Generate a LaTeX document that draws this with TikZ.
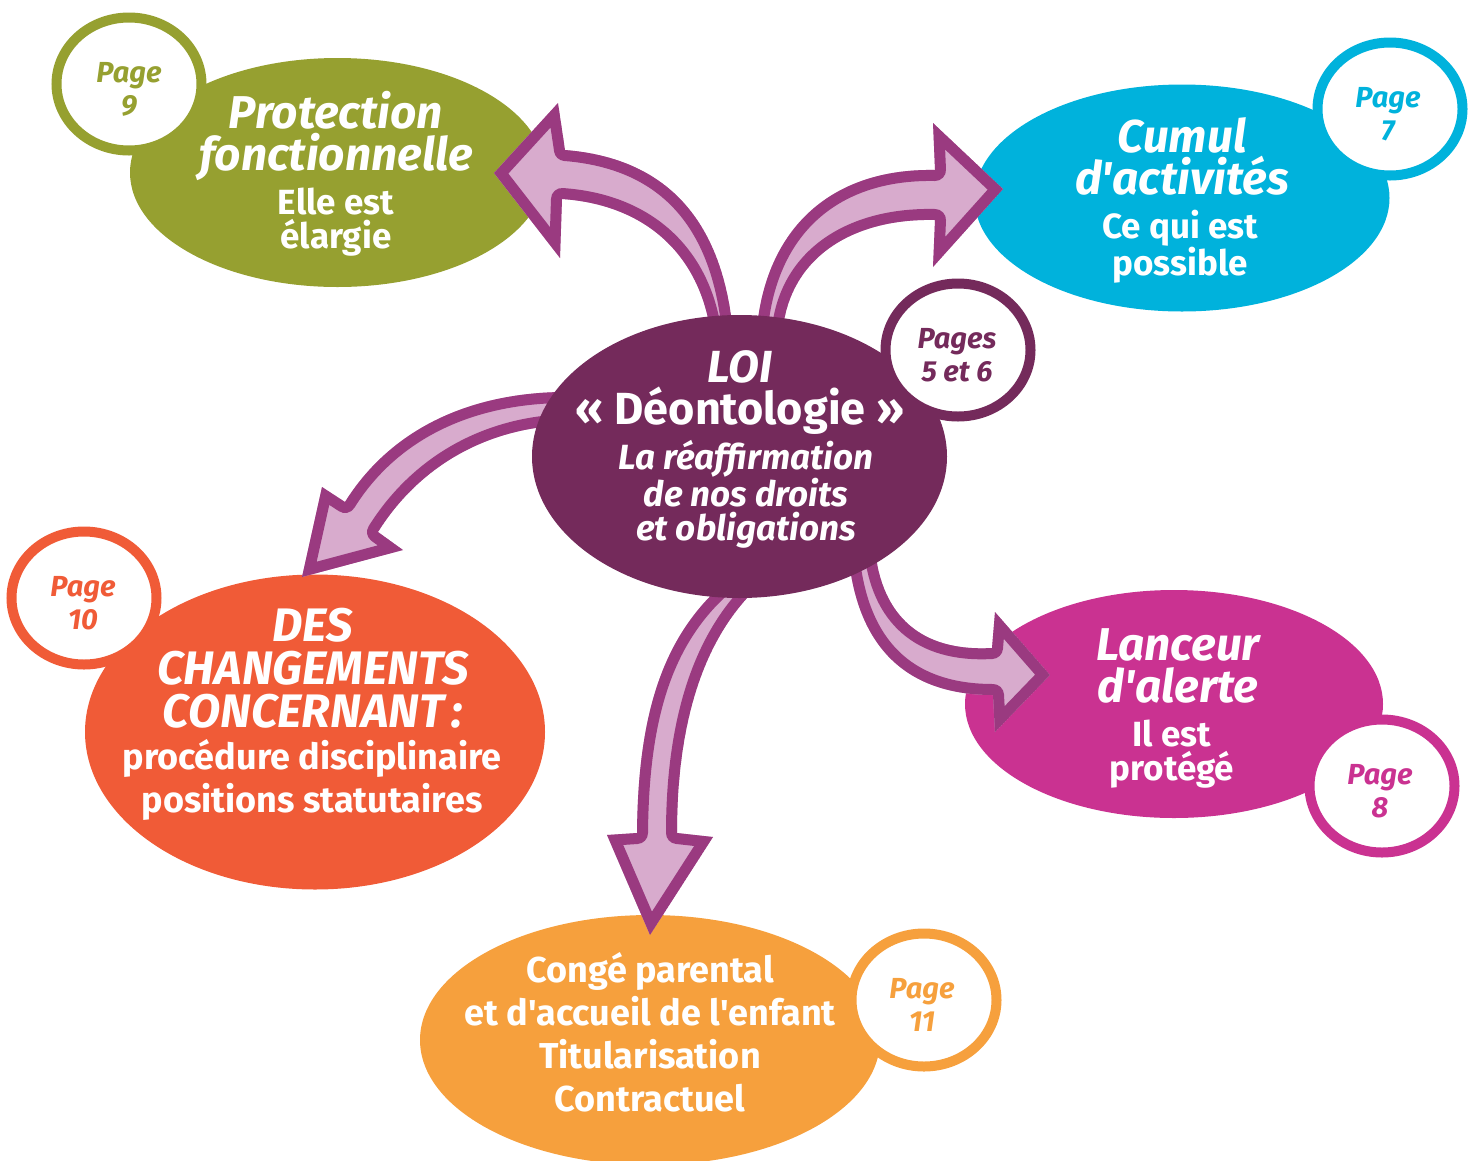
\documentclass[tikz,border=0pt]{standalone}
\usepackage{fontspec}
\setmainfont{Fira Sans}
\usetikzlibrary{shapes.geometric}

\definecolor{cgreen}{HTML}{96A030}
\definecolor{ccyan}{HTML}{00B2DC}
\definecolor{cplum}{HTML}{742A5B}
\definecolor{cred}{HTML}{F05B37}
\definecolor{cmagenta}{HTML}{CA3291}
\definecolor{corange}{HTML}{F6A03D}
\definecolor{arrowedge}{HTML}{9A3A80}
\definecolor{arrowbody}{HTML}{D8ABCD}

\newcommand{\ap}{\textquotesingle}

\tikzset{
  bubble/.style={ellipse, inner sep=0pt, draw=none},
  pagering/.style={ellipse, fill=white, draw=#1, line width=10pt,
    inner sep=0pt, minimum width=145pt, minimum height=133pt},
  pagetext/.style={text=#1, align=center, inner sep=0pt,
    font=\fontsize{29}{33}\selectfont\bfseries\itshape},
  titletext/.style={text=white, align=center, inner sep=0pt,
    font=\fontsize{46}{42}\selectfont\bfseries\itshape},
  subtext/.style={text=white, align=center, inner sep=0pt,
    font=\fontsize{35}{34}\selectfont\bfseries},
  arrowbodyfill/.style={fill=arrowbody},
  arrowrim/.style={draw=arrowedge, line width=22pt, line join=round},
}

% curved block arrow: light body with a rim kept inside the outline
\newcommand{\blockarrow}[1]{%
  \begin{scope}
    \clip #1;
    \fill[arrowbodyfill] #1;
    \draw[arrowrim] #1;
  \end{scope}}

\begin{document}
\begin{tikzpicture}[x=1pt, y=-1pt]
\useasboundingbox (0,0) rectangle (1478,1160);
\clip (0,0) rectangle (1478,1160);

% ---- outer topics ----
\node[bubble, fill=cgreen, minimum width=415pt, minimum height=229pt] (prot) at (337.5,172.5) {};
\node[pagering=cgreen] (prot-page) at (129,84) {};
\node[pagetext=cgreen] (prot-pagetext) at (129,89) {Page\\9};
\node[titletext, anchor=north] (prot-title) at (336,91) {Protection\\fonctionnelle};
\node[subtext, anchor=north] (prot-sub) at (336,188) {Elle est\\élargie};

\node[bubble, fill=ccyan, minimum width=415pt, minimum height=227pt] (cumul) at (1182,198) {};
\node[pagering=ccyan] (cumul-page) at (1390,109) {};
\node[pagetext=ccyan] (cumul-pagetext) at (1388,114) {Page\\7};
\node[titletext, anchor=north] (cumul-title) at (1182,117) {Cumul\\d\ap activités};
\node[subtext, anchor=north] (cumul-sub) at (1180,210) {Ce qui est\\possible};

\node[bubble, fill=cred, minimum width=460pt, minimum height=315pt] (chg) at (315,732) {};
\node[pagering=cred] (chg-page) at (84,598) {};
\node[pagetext=cred] (chg-pagetext) at (83,603) {Page\\10};
\node[titletext, anchor=north, font=\fontsize{47}{43}\selectfont\bfseries\itshape] (chg-title) at (313,608) {DES\\CHANGEMENTS\\CONCERNANT\,:};
\node[subtext, anchor=north, font=\fontsize{36}{43}\selectfont\bfseries] (chg-sub) at (312,739) {procédure disciplinaire\\positions statutaires};

\node[bubble, fill=cmagenta, minimum width=418pt, minimum height=228pt] (alerte) at (1174,704) {};
\node[pagering=cmagenta] (alerte-page) at (1382,786) {};
\node[pagetext=cmagenta] (alerte-pagetext) at (1380,791) {Page\\8};
\node[titletext, anchor=north] (alerte-title) at (1178,628) {Lanceur\\d\ap alerte};
\node[subtext, anchor=north] (alerte-sub) at (1172,720) {Il est\\protégé};

\node[bubble, fill=corange, minimum width=460pt, minimum height=250pt] (conge) at (650,1040) {};
\node[pagering=corange] (conge-page) at (924,1000) {};
\node[pagetext=corange] (conge-pagetext) at (922,1005) {Page\\11};
\node[subtext, anchor=north, font=\fontsize{36}{43}\selectfont\bfseries] (conge-text) at (650,952) {Congé parental\\et d\ap accueil de l\ap enfant\\Titularisation\\Contractuel};

% ---- arrows leaving the central topic ----
\coordinate (tip-prot) at (494,173);
\coordinate (tip-cumul) at (1003,189);
\coordinate (tip-chg) at (302,577);
\coordinate (tip-conge) at (650,935);
\coordinate (tip-alerte) at (1050,675);

\blockarrow{(734,345) .. controls (728,250) and (690,160) .. (565,150) -- (558,103) -- (tip-prot) -- (560,258) -- (562,199) .. controls (650,205) and (705,260) .. (712,345) -- cycle}
\blockarrow{(756,340) .. controls (762,230) and (830,168) .. (935,170) -- (933,123) -- (tip-cumul) -- (933,267) -- (935,220) .. controls (850,218) and (785,260) .. (782,340) -- cycle}
\blockarrow{(575,392) .. controls (470,390) and (390,430) .. (345,502) -- (322,487) -- (tip-chg) -- (403,550) -- (378,532) .. controls (420,465) and (490,425) .. (575,425) -- cycle}
\blockarrow{(722,585) .. controls (660,640) and (638,720) .. (637,833) -- (607,835) -- (tip-conge) -- (713,837) -- (677,833) .. controls (677,730) and (700,640) .. (760,585) -- cycle}
\blockarrow{(848,550) .. controls (855,640) and (900,695) .. (993,695) -- (995,732) -- (tip-alerte) -- (995,612) -- (992,648) .. controls (920,652) and (882,615) .. (875,550) -- cycle}

% ---- central topic ----
\node[bubble, fill=cplum, minimum width=415pt, minimum height=283pt] (loi) at (739.5,456.5) {};
\node[pagering=cplum] (loi-page) at (958,350) {};
\node[pagetext=cplum] (loi-pagetext) at (957,355) {Pages\\5 et 6};
\node[titletext, anchor=north, font=\fontsize{45}{42}\selectfont\bfseries\itshape] (loi-title) at (740,350) {LOI\\{\upshape « Déontologie »}};
\node[subtext, anchor=north, font=\fontsize{35}{34}\selectfont\bfseries\itshape] (loi-sub) at (746,440) {La réaffirmation\\de nos droits\\et obligations};
\end{tikzpicture}
\end{document}
